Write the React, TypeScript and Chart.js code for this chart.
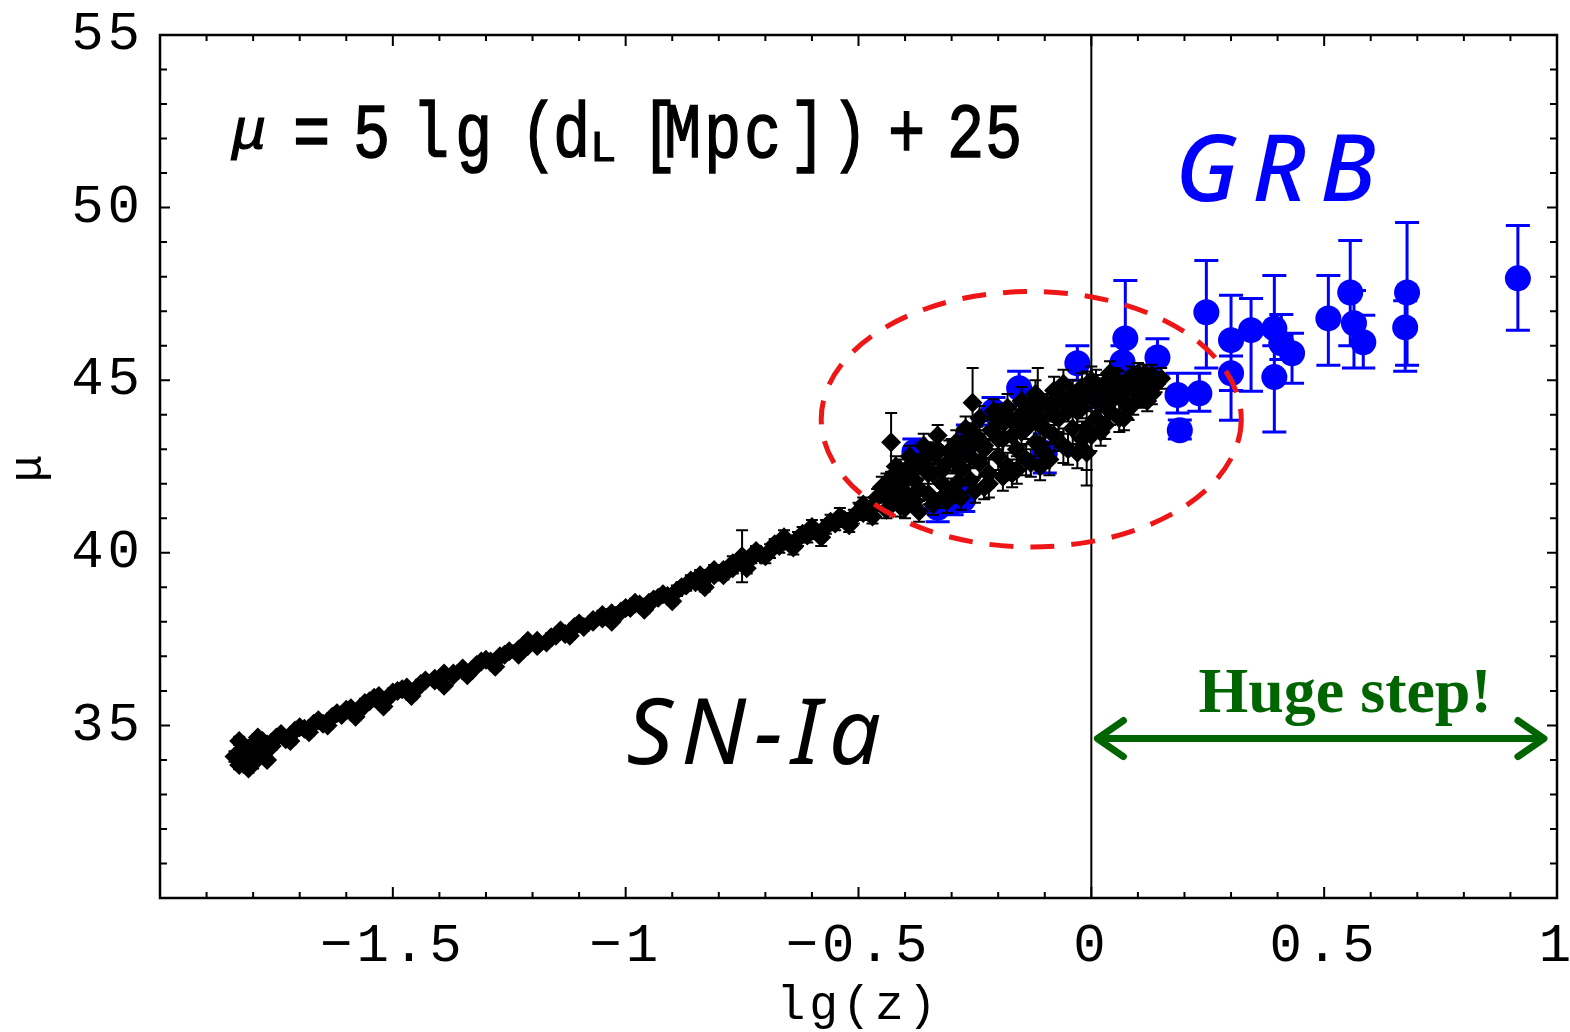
import React, { useEffect, useRef } from "react";
import { Chart, registerables } from "chart.js";

Chart.register(...registerables);

// ---------- axes ----------
const X_MIN = -2;
const X_MAX = 1;
const Y_MIN = 30;
const Y_MAX = 55;
const X_TICK_VALUES = [-2, -1.5, -1, -0.5, 0, 0.5, 1];
const X_TICK_LABELS = ["", "\u22121.5", "\u22121", "\u22120.5", "0", "0.5", "1"];
const Y_TICK_VALUES = [30, 35, 40, 45, 50, 55];
const Y_TICK_LABELS = ["", "35", "40", "45", "50", "55"];
const X_TITLE = "lg(z)";
const Y_TITLE = "\u03bc";

// ---------- SN-Ia (black diamonds) ----------
const SN_LGZ = [
  -1.84, -1.83, -1.82, -1.81, -1.8, -1.8, -1.79, -1.78, -1.76, -1.74,
  -1.72, -1.7, -1.68, -1.66, -1.64, -1.62, -1.6, -1.58, -1.56, -1.54,
  -1.52, -1.5, -1.48, -1.46, -1.44, -1.41, -1.39, -1.37, -1.34, -1.32,
  -1.3, -1.28, -1.26, -1.23, -1.21, -1.19, -1.16, -1.14, -1.12, -1.1,
  -1.07, -1.05, -1.03, -1.0, -0.98, -0.96, -0.94, -0.92, -0.9, -0.88,
  -0.86, -0.84, -0.83, -0.81, -0.79, -0.77, -0.75, -0.74, -0.72, -0.7,
  -0.68, -0.66, -0.64, -0.62, -0.6, -0.58, -0.56, -0.54, -0.52, -0.5,
  -0.49, -0.47, -0.46, -0.44, -0.43, -0.42, -0.41, -0.4, -0.39, -0.38,
  -0.37, -0.36, -0.35, -0.34, -0.33, -0.32, -0.31, -0.3, -0.29, -0.28,
  -0.27, -0.26, -0.255, -0.25, -0.24, -0.23, -0.22, -0.21, -0.2, -0.19,
  -0.18, -0.17, -0.16, -0.15, -0.14, -0.13, -0.12, -0.115, -0.11, -0.1,
  -0.09, -0.08, -0.07, -0.06, -0.05, -0.04, -0.03, -0.02, -0.01, 0.0,
  0.01, 0.02, 0.03, 0.04, 0.05, 0.06, 0.07, 0.08, 0.09, 0.1,
  0.11, 0.12, 0.13, 0.14, 0.15,
  -0.44, -0.42, -0.4, -0.39, -0.37, -0.36, -0.34, -0.33, -0.31, -0.3,
  -0.28, -0.27, -0.25, -0.24, -0.22, -0.21, -0.19, -0.18, -0.16, -0.15,
  -0.13, -0.12, -0.1, -0.09, -0.08, -0.06, -0.05, -0.04, -0.02, -0.01,
  0.0, 0.01, 0.03, 0.05, 0.06, 0.08, 0.1, 0.12,
  -1.83, -1.81, -1.79, -1.77,
  -0.45, -0.43, -0.41, -0.38, -0.35, -0.32, -0.29, -0.26, -0.23, -0.2,
  -0.17, -0.14, -0.11, -0.07, -0.03, 0.0, 0.02, 0.04, 0.07, 0.09,
  0.11, 0.13,
  -1.77, -1.75, -1.73, -1.71, -1.69, -1.67, -1.65, -1.63, -1.61, -1.59,
  -1.57, -1.55, -1.53, -1.51, -1.49, -1.47, -1.45, -1.43, -1.41, -1.39,
  -1.37, -1.35, -1.33, -1.31, -1.29, -1.27, -1.25, -1.23, -1.21, -1.19,
  -1.17, -1.15, -1.13, -1.11, -1.09, -1.07, -1.05, -1.03, -1.01, -0.99,
  -0.97, -0.95, -0.93, -0.91, -0.89, -0.87, -0.85, -0.83, -0.81, -0.79,
  -0.77, -0.75, -0.73, -0.71, -0.69, -0.67, -0.65, -0.63, -0.61, -0.59,
  -0.57, -0.55, -0.53, -0.51, -0.49, -0.47,
  -0.44, -0.41, -0.38, -0.35, -0.32, -0.29, -0.26, -0.23, -0.2, -0.17,
  -0.14, -0.11, -0.08, -0.05, -0.02, 0.01, 0.04, 0.07, 0.1, 0.13,
  -0.425, -0.395, -0.365, -0.335, -0.305, -0.275, -0.245, -0.215, -0.185, -0.155,
  -0.125, -0.095, -0.065, -0.035, -0.005, 0.025, 0.055, 0.085, 0.115,
];
const SN_MU = [
  34.1, 33.85, 34.35, 34.05, 33.9, 34.45, 34.2, 34.55, 34.4, 34.75,
  34.55, 34.95, 34.8, 35.15, 35.0, 35.35, 35.45, 35.25, 35.65, 35.8,
  35.55, 35.95, 36.05, 35.85, 36.2, 36.3, 36.15, 36.5, 36.45, 36.75,
  36.9, 36.7, 37.05, 37.2, 37.45, 37.3, 37.55, 37.75, 37.6, 37.95,
  38.05, 38.2, 38.0, 38.4, 38.55, 38.35, 38.65, 38.8, 38.6, 39.0,
  39.2, 39.35, 39.0, 39.5, 39.35, 39.7, 39.9, 39.55, 40.05, 39.9,
  40.25, 40.45, 40.15, 40.55, 40.75, 40.45, 40.9, 41.05, 40.8, 41.2,
  41.4, 41.05, 41.6, 41.25, 43.2, 41.8, 41.35, 42.1, 41.6, 42.4,
  41.85, 42.7, 41.7, 42.3, 43.0, 42.0, 42.6, 41.8, 43.2, 42.4,
  42.9, 42.1, 44.35, 43.4, 42.6, 43.1, 42.3, 43.6, 42.8, 43.3,
  42.5, 43.8, 43.0, 43.5, 42.7, 44.0, 43.2, 44.5, 43.7, 42.9,
  44.2, 43.4, 43.9, 43.1, 44.4, 43.6, 44.1, 43.3, 43.6, 44.5,
  43.9, 44.3, 44.7, 44.1, 44.5, 44.9, 44.4, 44.8, 45.1, 44.6,
  45.0, 44.75, 45.15, 44.9, 45.05,
  42.0, 42.5, 41.3, 42.8, 41.2, 43.1, 41.4, 43.4, 41.5, 43.0,
  41.6, 43.6, 41.8, 43.9, 42.0, 44.1, 42.2, 44.2, 42.4, 44.4,
  42.6, 44.6, 43.6, 42.7, 44.7, 44.9, 43.0, 44.6, 44.8, 42.9,
  43.4, 44.9, 43.7, 45.0, 43.9, 44.2, 45.2, 44.4,
  34.55, 33.75, 34.65, 34.0,
  41.9, 41.6, 42.4, 41.5, 42.9, 41.6, 42.0, 43.3, 41.9, 43.9,
  42.3, 44.1, 42.5, 44.5, 42.9, 45.0, 43.5, 45.2, 43.9, 44.3,
  44.5, 44.6,
  34.45, 34.65, 34.6, 34.85, 34.9, 35.05, 35.05, 35.25, 35.3, 35.5,
  35.45, 35.7, 35.85, 35.8, 36.0, 36.1, 36.05, 36.3, 36.35, 36.5,
  36.45, 36.65, 36.6, 36.85, 36.85, 37.0, 37.15, 37.05, 37.3, 37.45,
  37.4, 37.6, 37.65, 37.85, 37.85, 38.0, 38.1, 38.25, 38.3, 38.4,
  38.5, 38.55, 38.7, 38.75, 38.9, 39.05, 39.15, 39.25, 39.35, 39.5,
  39.55, 39.7, 39.85, 39.95, 40.05, 40.2, 40.3, 40.4, 40.5, 40.6,
  40.75, 40.85, 40.95, 41.05, 41.15, 41.3,
  41.7, 41.9, 42.1, 42.3, 42.4, 42.6, 42.8, 43.0, 43.3, 43.4,
  43.6, 43.9, 44.0, 44.1, 44.2, 44.4, 44.6, 44.7, 44.8, 45.0,
  42.25, 42.45, 42.6, 42.85, 42.95, 43.2, 43.35, 43.55, 43.8, 43.95,
  44.15, 44.3, 44.45, 44.55, 44.7, 44.85, 45.0, 45.1, 45.2,
];
const SN_ERR = [
  0.15, 0.12, 0.15, 0.12, 0.15, 0.12, 0.1, 0.12, 0.1, 0.12,
  0.1, 0.12, 0.1, 0.12, 0.1, 0.12, 0.1, 0.1, 0.12, 0.1,
  0.1, 0.12, 0.1, 0.1, 0.12, 0.1, 0.1, 0.12, 0.1, 0.1,
  0.12, 0.1, 0.1, 0.12, 0.1, 0.1, 0.12, 0.1, 0.1, 0.12,
  0.1, 0.12, 0.1, 0.12, 0.12, 0.1, 0.12, 0.12, 0.1, 0.15,
  0.15, 0.15, 0.12, 0.15, 0.12, 0.2, 0.75, 0.15, 0.15, 0.2,
  0.15, 0.2, 0.2, 0.2, 0.2, 0.25, 0.2, 0.25, 0.2, 0.25,
  0.2, 0.2, 0.25, 0.25, 0.85, 0.25, 0.3, 0.3, 0.25, 0.3,
  0.3, 0.35, 0.3, 0.3, 0.35, 0.35, 0.3, 0.35, 0.35, 0.3,
  0.35, 0.35, 1.0, 0.35, 0.4, 0.35, 0.4, 0.35, 0.4, 0.4,
  0.4, 0.35, 0.4, 0.4, 0.45, 0.4, 0.4, 0.85, 0.4, 0.45,
  0.4, 0.45, 0.4, 0.5, 0.4, 0.45, 0.4, 0.5, 1.65, 0.4,
  0.45, 0.4, 0.35, 0.4, 0.35, 0.35, 0.4, 0.35, 0.3, 0.35,
  0.3, 0.3, 0.3, 0.25, 0.3,
  0.3, 0.3, 0.3, 0.3, 0.3, 0.35, 0.3, 0.3, 0.35, 0.3,
  0.35, 0.35, 0.35, 0.35, 0.4, 0.35, 0.4, 0.4, 0.4, 0.4,
  0.4, 0.4, 0.4, 0.45, 0.4, 0.4, 0.45, 0.4, 0.4, 0.5,
  0.45, 0.4, 0.4, 0.35, 0.4, 0.35, 0.3, 0.3,
  0.12, 0.12, 0.1, 0.1,
  0.3, 0.3, 0.3, 0.3, 0.3, 0.3, 0.35, 0.35, 0.35, 0.4,
  0.4, 0.4, 0.4, 0.4, 0.45, 0.4, 0.4, 0.35, 0.35, 0.3,
  0.3, 0.3,
  0.1, 0.1, 0.1, 0.1, 0.1, 0.1, 0.1, 0.1, 0.1, 0.1,
  0.1, 0.1, 0.1, 0.1, 0.1, 0.1, 0.1, 0.1, 0.1, 0.1,
  0.1, 0.1, 0.1, 0.1, 0.1, 0.1, 0.1, 0.1, 0.1, 0.1,
  0.1, 0.1, 0.1, 0.1, 0.1, 0.1, 0.1, 0.12, 0.12, 0.12,
  0.12, 0.12, 0.12, 0.12, 0.15, 0.15, 0.15, 0.15, 0.15, 0.15,
  0.15, 0.15, 0.15, 0.15, 0.2, 0.2, 0.2, 0.2, 0.2, 0.2,
  0.2, 0.2, 0.2, 0.2, 0.2, 0.2,
  0.25, 0.25, 0.25, 0.3, 0.3, 0.3, 0.3, 0.3, 0.3, 0.3,
  0.3, 0.3, 0.3, 0.3, 0.3, 0.3, 0.3, 0.3, 0.3, 0.25,
  0.25, 0.25, 0.25, 0.3, 0.3, 0.3, 0.3, 0.3, 0.3, 0.3,
  0.3, 0.3, 0.3, 0.3, 0.3, 0.3, 0.3, 0.3, 0.25,
];

// ---------- GRB (blue circles) ----------
const GRB_LGZ = [
  -0.38, -0.33, -0.3, -0.275, -0.265, -0.21, -0.155, -0.1, -0.03, 0.02,
  0.073, 0.067, 0.142, 0.247, 0.185, 0.232, 0.19, 0.3, 0.3, 0.343,
  0.393, 0.393, 0.431, 0.408, 0.509, 0.556, 0.564, 0.584, 0.678, 0.674,
  0.916,
];
const GRB_MU = [
  42.92, 41.3, 41.45, 41.55, 43.25, 44.1, 44.77, 42.89, 45.49, 44.55,
  46.21, 45.52, 45.66, 46.97, 44.57, 44.62, 43.55, 46.16, 45.2, 46.45,
  46.5, 45.09, 45.78, 46.07, 46.79, 47.54, 46.65, 46.1, 47.54, 46.53,
  47.95,
];
const GRB_MU_LOW = [
  42.5, 40.9, 41.1, 41.2, 42.8, 43.7, 44.3, 42.31, 45.0, 44.2,
  44.6, 45.0, 45.1, 45.35, 44.05, 44.1, 43.3, 43.84, 44.7, 44.68,
  46.0, 43.5, 44.91, 45.6, 45.43, 46.0, 45.35, 45.35, 45.43, 45.26,
  46.45,
];
const GRB_MU_HIGH = [
  43.3, 41.7, 41.8, 41.9, 43.7, 44.5, 45.26, 43.45, 46.0, 44.9,
  47.89, 46.0, 46.2, 48.47, 45.2, 45.2, 43.85, 47.46, 45.7, 47.37,
  48.03, 46.5, 46.36, 46.9, 48.03, 49.05, 47.6, 46.88, 49.57, 47.3,
  49.48,
];

// ---------- annotations (data units) ----------
const ELLIPSE_CENTER = { x: -0.129, y: 43.87 };
const ELLIPSE_RADII = { x: 0.451, y: 3.7 };
const ARROW_FROM = { x: 0.013, y: 34.62 };
const ARROW_TO = { x: 0.972, y: 34.62 };
const STEP_LABEL = { text: "Huge step!", x: 0.545, y: 35.4 };
const GRB_LABEL = { text: "GRB", x: 0.18, y: 50.2 };
const SN_LABEL = { text: "SN-Ia", x: -0.998, y: 33.87 };

const F_MAIN = '62px "Liberation Mono"';
const FORMULA_PIECES = [
  { t: "\u03bc", x: 232, y: 148, font: 'italic 58px "Liberation Mono"', sy: 1.0 },
  { t: "=", x: 293, y: 157, font: F_MAIN, sy: 1.25 },
  { t: "5", x: 353, y: 157, font: F_MAIN, sy: 1.25 },
  { t: "l", x: 412, y: 157, font: F_MAIN, sy: 1.25 },
  { t: "g", x: 455, y: 157, font: F_MAIN, sy: 1.25 },
  { t: "(", x: 520, y: 157, font: F_MAIN, sy: 1.25 },
  { t: "d", x: 553, y: 157, font: F_MAIN, sy: 1.25 },
  { t: "L", x: 590, y: 161, font: '44px "Liberation Mono"', sy: 1.0 },
  { t: "[", x: 641, y: 157, font: F_MAIN, sy: 1.25 },
  { t: "M", x: 664, y: 157, font: F_MAIN, sy: 1.25 },
  { t: "p", x: 704, y: 157, font: F_MAIN, sy: 1.25 },
  { t: "c", x: 744, y: 157, font: F_MAIN, sy: 1.25 },
  { t: "]", x: 789, y: 157, font: F_MAIN, sy: 1.25 },
  { t: ")", x: 831, y: 157, font: F_MAIN, sy: 1.25 },
  { t: "+", x: 888, y: 157, font: F_MAIN, sy: 1.25 },
  { t: "2", x: 947, y: 157, font: F_MAIN, sy: 1.25 },
  { t: "5", x: 985, y: 157, font: F_MAIN, sy: 1.25 },
];

const SN_POINTS = SN_LGZ.map((x, i) => ({ x, y: SN_MU[i] }));
const GRB_POINTS = GRB_LGZ.map((x, i) => ({ x, y: GRB_MU[i] }));

const errorBarPlugin = {
  id: "errorBars",
  beforeDatasetDraw(chart: any, args: any) {
    const ds = chart.data.datasets[args.index];
    if (!ds.errLow) return;
    const { ctx, scales } = chart;
    const xs = scales.x;
    const ys = scales.y;
    ctx.save();
    ctx.strokeStyle = ds.errColor;
    ctx.lineWidth = ds.errWidth;
    ctx.beginPath();
    ds.data.forEach((p: any, i: number) => {
      const px = xs.getPixelForValue(p.x);
      const lo = ys.getPixelForValue(ds.errLow[i]);
      const hi = ys.getPixelForValue(ds.errHigh[i]);
      ctx.moveTo(px, lo);
      ctx.lineTo(px, hi);
      ctx.moveTo(px - ds.capHalf, lo);
      ctx.lineTo(px + ds.capHalf, lo);
      ctx.moveTo(px - ds.capHalf, hi);
      ctx.lineTo(px + ds.capHalf, hi);
    });
    ctx.stroke();
    ctx.restore();
  },
};

const decorPlugin = {
  id: "decor",
  beforeDraw(chart: any) {
    const ctx = chart.ctx;
    ctx.save();
    ctx.fillStyle = "#ffffff";
    ctx.fillRect(0, 0, chart.width, chart.height);
    ctx.restore();
    (ctx as any).letterSpacing = "4px";
  },
  beforeDatasetsDraw(chart: any) {
    (chart.ctx as any).letterSpacing = "0px";
  },
  afterDatasetsDraw(chart: any) {
    const { ctx, chartArea, scales } = chart;
    const xs = scales.x;
    const ys = scales.y;
    const { left, right, top, bottom } = chartArea;
    ctx.save();
    const x0 = xs.getPixelForValue(0);
    ctx.strokeStyle = "#000";
    ctx.lineWidth = 2;
    ctx.beginPath();
    ctx.moveTo(x0, top);
    ctx.lineTo(x0, bottom);
    ctx.stroke();

    const cx = xs.getPixelForValue(ELLIPSE_CENTER.x);
    const cy = ys.getPixelForValue(ELLIPSE_CENTER.y);
    const rx = Math.abs(xs.getPixelForValue(ELLIPSE_CENTER.x + ELLIPSE_RADII.x) - cx);
    const ry = Math.abs(ys.getPixelForValue(ELLIPSE_CENTER.y + ELLIPSE_RADII.y) - cy);
    ctx.strokeStyle = "rgb(238,22,22)";
    ctx.lineWidth = 5;
    ctx.setLineDash([24, 17]);
    ctx.beginPath();
    ctx.ellipse(cx, cy, rx, ry, 0, 0, Math.PI * 2);
    ctx.stroke();
    ctx.setLineDash([]);

    ctx.strokeStyle = "#000";
    ctx.lineWidth = 2;
    ctx.beginPath();
    const nx = Math.round((X_MAX - X_MIN) / 0.1);
    for (let i = 0; i <= nx; i++) {
      const v = X_MIN + i * 0.1;
      const px = xs.getPixelForValue(v);
      const len = i % 5 === 0 ? 11 : 6;
      ctx.moveTo(px, bottom);
      ctx.lineTo(px, bottom - len);
      ctx.moveTo(px, top);
      ctx.lineTo(px, top + len);
    }
    const ny = Math.round(Y_MAX - Y_MIN);
    for (let i = 0; i <= ny; i++) {
      const v = Y_MIN + i;
      const py = ys.getPixelForValue(v);
      const len = i % 5 === 0 ? 10 : 7;
      ctx.moveTo(left, py);
      ctx.lineTo(left + len, py);
      ctx.moveTo(right, py);
      ctx.lineTo(right - len, py);
    }
    ctx.stroke();
    ctx.lineWidth = 2.5;
    ctx.strokeRect(left, top, right - left, bottom - top);
    ctx.restore();
  },
  afterDraw(chart: any) {
    const { ctx, scales } = chart;
    const xs = scales.x;
    const ys = scales.y;
    ctx.save();
    (ctx as any).letterSpacing = "0px";
    ctx.textBaseline = "alphabetic";

    ctx.fillStyle = "#000";
    ctx.strokeStyle = "#000";
    ctx.lineWidth = 1.2;
    ctx.textAlign = "left";
    for (const p of FORMULA_PIECES) {
      ctx.save();
      ctx.translate(p.x, p.y);
      ctx.scale(1, p.sy);
      ctx.font = p.font;
      ctx.fillText(p.t, 0, 0);
      ctx.strokeText(p.t, 0, 0);
      ctx.restore();
    }

    ctx.fillStyle = "#0000ff";
    ctx.font = 'italic 500 92px "Noto Sans"';
    (ctx as any).letterSpacing = "14px";
    ctx.fillText(GRB_LABEL.text, xs.getPixelForValue(GRB_LABEL.x), ys.getPixelForValue(GRB_LABEL.y));

    ctx.fillStyle = "#000";
    ctx.font = 'italic 400 92px "Noto Sans"';
    (ctx as any).letterSpacing = "8px";
    ctx.fillText(SN_LABEL.text, xs.getPixelForValue(SN_LABEL.x), ys.getPixelForValue(SN_LABEL.y));
    (ctx as any).letterSpacing = "0px";

    ctx.fillStyle = "#006400";
    ctx.font = 'bold 64px "Liberation Serif"';
    ctx.textAlign = "center";
    ctx.fillText(STEP_LABEL.text, xs.getPixelForValue(STEP_LABEL.x), ys.getPixelForValue(STEP_LABEL.y));

    const ax0 = xs.getPixelForValue(ARROW_FROM.x);
    const ax1 = xs.getPixelForValue(ARROW_TO.x);
    const ay = ys.getPixelForValue(ARROW_FROM.y);
    ctx.strokeStyle = "#006400";
    ctx.lineWidth = 7;
    ctx.lineCap = "round";
    ctx.lineJoin = "round";
    ctx.beginPath();
    ctx.moveTo(ax0 + 3, ay);
    ctx.lineTo(ax1 - 3, ay);
    ctx.moveTo(ax0 + 26, ay - 18);
    ctx.lineTo(ax0, ay);
    ctx.lineTo(ax0 + 26, ay + 18);
    ctx.moveTo(ax1 - 26, ay - 18);
    ctx.lineTo(ax1, ay);
    ctx.lineTo(ax1 - 26, ay + 18);
    ctx.stroke();
    ctx.restore();
  },
};

function pickLabel(values: number[], labels: string[], v: number) {
  for (let i = 0; i < values.length; i++) {
    if (Math.abs(values[i] - v) < 1e-6) return labels[i];
  }
  return "";
}

export default function App() {
  const canvasRef = useRef<HTMLCanvasElement | null>(null);

  useEffect(() => {
    document.body.style.margin = "0";
    const canvas = canvasRef.current;
    if (!canvas) return;
    const tickFont = { family: "Liberation Mono", size: 54, lineHeight: 1.2 };
    const chart = new Chart(canvas, {
      type: "scatter",
      data: {
        datasets: [
          {
            label: "SN-Ia",
            data: SN_POINTS,
            pointStyle: "rectRot",
            pointRadius: 10,
            pointHoverRadius: 10,
            pointBackgroundColor: "#000000",
            pointBorderColor: "#000000",
            pointBorderWidth: 0,
            showLine: false,
            errLow: SN_MU.map((m, i) => m - SN_ERR[i]),
            errHigh: SN_MU.map((m, i) => m + SN_ERR[i]),
            errColor: "#000000",
            errWidth: 2,
            capHalf: 6,
          } as any,
          {
            label: "GRB",
            data: GRB_POINTS,
            pointStyle: "circle",
            pointRadius: 13,
            pointHoverRadius: 13,
            pointBackgroundColor: "#0000ff",
            pointBorderColor: "#0000ff",
            pointBorderWidth: 0,
            showLine: false,
            errLow: GRB_MU_LOW,
            errHigh: GRB_MU_HIGH,
            errColor: "#0000ff",
            errWidth: 3,
            capHalf: 12,
          } as any,
        ],
      },
      options: {
        responsive: false,
        animation: false,
        devicePixelRatio: 1,
        events: [],
        layout: { padding: { top: 35, right: 12, left: 0, bottom: 0 } },
        plugins: {
          legend: { display: false },
          tooltip: { enabled: false },
        },
        scales: {
          x: {
            type: "linear",
            min: X_MIN,
            max: X_MAX,
            grid: { display: false, drawTicks: false },
            border: { display: false },
            ticks: {
              stepSize: 0.5,
              autoSkip: false,
              maxRotation: 0,
              padding: 16,
              color: "#000",
              font: tickFont,
              callback: (v: any) => pickLabel(X_TICK_VALUES, X_TICK_LABELS, Number(v)),
            },
            title: {
              display: true,
              text: X_TITLE,
              color: "#000",
              font: { family: "Liberation Mono", size: 48, lineHeight: 1 },
              padding: { top: 0, bottom: 2 },
            },
            afterFit: (s: any) => {
              s.height = 134;
              s.paddingLeft = 0;
              s.paddingRight = 0;
            },
          },
          y: {
            type: "linear",
            min: Y_MIN,
            max: Y_MAX,
            grid: { display: false, drawTicks: false },
            border: { display: false },
            ticks: {
              stepSize: 5,
              autoSkip: false,
              padding: 16,
              color: "#000",
              font: tickFont,
              callback: (v: any) => pickLabel(Y_TICK_VALUES, Y_TICK_LABELS, Number(v)),
            },
            title: {
              display: true,
              text: Y_TITLE,
              color: "#000",
              font: { family: "Liberation Mono", size: 46, lineHeight: 1 },
              padding: { top: 6, bottom: 0 },
            },
            afterFit: (s: any) => {
              s.width = 160;
              s.paddingTop = 0;
              s.paddingBottom = 0;
            },
          },
        },
      },
      plugins: [errorBarPlugin, decorPlugin],
    });
    return () => chart.destroy();
  }, []);

  return (
    <div style={{ position: "absolute", left: 0, top: 0, width: 1570, height: 1032, background: "#fff" }}>
      <canvas ref={canvasRef} width={1570} height={1032} style={{ display: "block" }} />
    </div>
  );
}
